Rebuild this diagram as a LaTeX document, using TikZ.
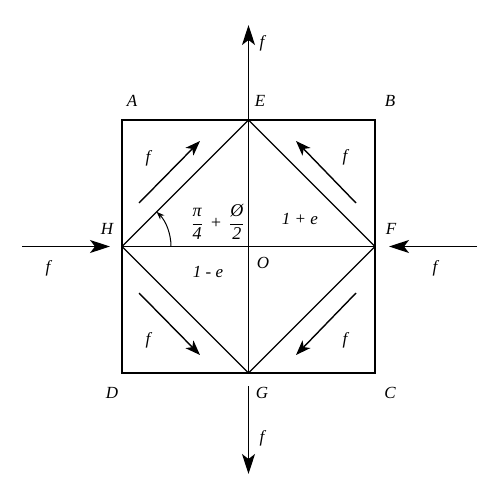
\documentclass[tikz,border=0pt]{standalone}
\usepackage{fontspec}
\setmainfont{Liberation Serif}
\usetikzlibrary{arrows.meta}
\begin{document}
\begin{tikzpicture}[x=1pt,y=-1pt,
  edge/.style={line width=1.3pt},
  force/.style={line width=1.4pt,-{Stealth[length=20pt,width=13pt,inset=5pt]}},
  slide/.style={line width=1.4pt,-{Stealth[length=15pt,width=11pt,inset=4pt]}},
  lbl/.style={font=\fontsize{17}{19}\selectfont\itshape}]
\useasboundingbox (0,0) rectangle (500,500);
% corners and midpoints
\coordinate (A) at (122,120);
\coordinate (B) at (375,120);
\coordinate (C) at (375,373);
\coordinate (D) at (122,373);
\coordinate (E) at (248.5,120);
\coordinate (F) at (375,246.5);
\coordinate (G) at (248.5,373);
\coordinate (H) at (122,246.5);
\coordinate (O) at (248.5,246.5);
\draw[edge] (A) -- (B) -- (C) -- (D) -- cycle;
\draw[edge] (E) -- (F) -- (G) -- (H) -- cycle;
\draw[edge] (E) -- (G);
\draw[edge] (H) -- (F);
% outer forces
\coordinate (Etip) at (248.5,25);
\coordinate (Gs) at (248.5,386);
\coordinate (Gtip) at (248.5,474);
\coordinate (Hs) at (22,246.5);
\coordinate (Htip) at (110,246.5);
\coordinate (Fs) at (477,246.5);
\coordinate (Ftip) at (389,246.5);
\draw[force] (E) -- (Etip);
\draw[force] (Gs) -- (Gtip);
\draw[force] (Hs) -- (Htip);
\draw[force] (Fs) -- (Ftip);
% sliding forces
\coordinate (s1) at (139,203); \coordinate (t1) at (200,141);
\coordinate (s2) at (356,203); \coordinate (t2) at (296,141);
\coordinate (s3) at (139,293); \coordinate (t3) at (200,355);
\coordinate (s4) at (356,293); \coordinate (t4) at (296,355);
\draw[slide] (s1) -- (t1);
\draw[slide] (s2) -- (t2);
\draw[slide] (s3) -- (t3);
\draw[slide] (s4) -- (t4);
% angle
\draw[line width=1pt,-{Stealth[length=8pt,width=6pt]}] ([xshift=49pt]H) arc[start angle=0,end angle=45,radius=49pt];
% labels
\node[lbl] (lA) at (132,101) {A};
\node[lbl] (lE) at (260,101) {E};
\node[lbl] (lB) at (390,101) {B};
\node[lbl] (lH) at (107,229) {H};
\node[lbl] (lF) at (391,229) {F};
\node[lbl] (lD) at (112,393) {D};
\node[lbl] (lG) at (262,393) {G};
\node[lbl] (lC) at (390,393) {C};
\node[lbl] (lO) at (263,263) {O};
\node[lbl] (f1) at (262,43) {f};
\node[lbl] (f2) at (148,158) {f};
\node[lbl] (f3) at (345,157) {f};
\node[lbl] (f4) at (48,268) {f};
\node[lbl] (f5) at (435,268) {f};
\node[lbl] (f6) at (148,340) {f};
\node[lbl] (f7) at (345,340) {f};
\node[lbl] (f8) at (262,438) {f};
\node[lbl,inner sep=0pt,font=\fontsize{18}{20}\selectfont\itshape] (ang) at (218,222) {$\displaystyle\frac{\mbox{π}}{\mbox{4}}$\hspace{7pt}+\hspace{7pt}$\displaystyle\frac{\mbox{\O}}{\mbox{2}}$};
\node[lbl] (pe) at (300,219) {1 + e};
\node[lbl] (me) at (208,272) {1 - e};
\end{tikzpicture}
\end{document}
